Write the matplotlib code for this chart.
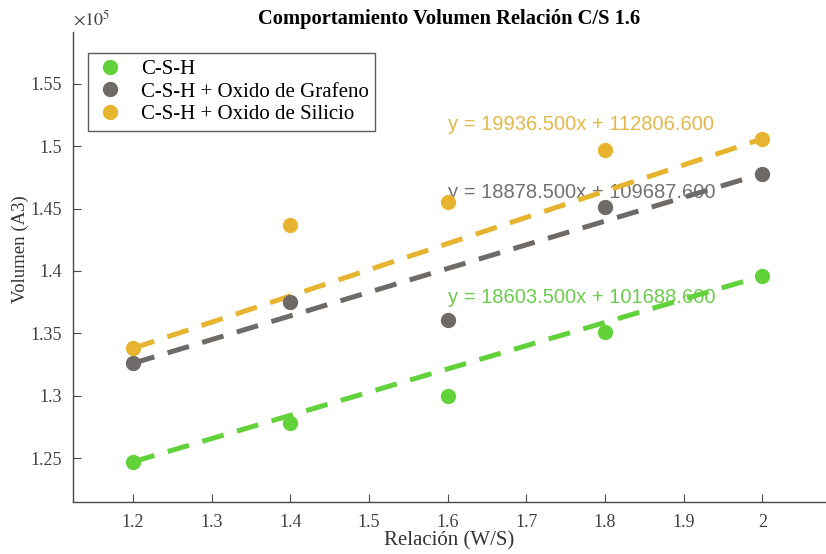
import numpy as np
import matplotlib.pyplot as plt

# values (volumen in units of 1e5 A3)
relacion = np.array([1.2, 1.4, 1.6, 1.8, 2.0])
vol_csh = np.array([1.247, 1.278, 1.2996, 1.351, 1.396])
vol_grafeno = np.array([1.326, 1.375, 1.361, 1.451, 1.478])
vol_silicio = np.array([1.338, 1.4366, 1.455, 1.497, 1.506])

labels = ['C-S-H', 'C-S-H + Oxido de Grafeno', 'C-S-H + Oxido de Silicio']
ecuaciones = ['y = 18603.500x + 101688.600',
              'y = 18878.500x + 109687.600',
              'y = 19936.500x + 112806.600']
eq_y = [1.379, 1.463, 1.5174]

colors = ['#62d23a', '#6e6a67', '#e6b42e']
text_colors = ['#6ccc4c', '#727272', '#e2b84a']

plt.rcParams['lines.scale_dashes'] = False
plt.rcParams['mathtext.fontset'] = 'stix'
fig = plt.figure(figsize=(8.26, 5.54), dpi=100)
ax = fig.add_axes([0.0884, 0.0939, 0.9116, 0.8483])

series = [vol_csh, vol_grafeno, vol_silicio]
for vol, c, lab in zip(series, colors, labels):
    ax.plot(relacion, vol, 'o', color=c, markersize=10, label=lab, zorder=3)
for vol, c in zip(series, colors):
    ax.plot(relacion[[0, -1]], vol[[0, -1]], color=c, lw=3.6,
            dashes=(16, 10), zorder=2)
for eq, y, c in zip(ecuaciones, eq_y, text_colors):
    ax.text(1.6, y, eq, color=c, fontsize=14.5, family='Liberation Sans',
            va='center', ha='left', zorder=1)

ax.set_xlim(1.1237, 2.081)
ax.set_ylim(1.2148, 1.5916)
ax.set_xticks([1.2, 1.3, 1.4, 1.5, 1.6, 1.7, 1.8, 1.9, 2.0])
ax.set_xticklabels(['1.2', '1.3', '1.4', '1.5', '1.6', '1.7', '1.8', '1.9', '2'])
ax.set_yticks([1.25, 1.3, 1.35, 1.4, 1.45, 1.5, 1.55])
ax.set_yticklabels(['1.25', '1.3', '1.35', '1.4', '1.45', '1.5', '1.55'])

for s in ['top', 'right']:
    ax.spines[s].set_visible(False)
for s in ['left', 'bottom']:
    ax.spines[s].set_color('#4a4a4a')
    ax.spines[s].set_linewidth(1.0)
ax.tick_params(direction='in', length=6, color='#4a4a4a', labelcolor='#404040',
               labelsize=13)
ax.tick_params(axis='x', pad=9)
ax.tick_params(axis='y', pad=8)
for lab in ax.get_xticklabels() + ax.get_yticklabels():
    lab.set_family('Liberation Serif')

ax.set_xlabel('Relación (W/S)', family='Liberation Serif', fontsize=15,
              color='#333333', labelpad=0)
ax.set_ylabel('Volumen (A3)', family='Liberation Serif', fontsize=13.5,
              color='#333333')
ax.yaxis.set_label_coords(-0.058, 0.538)
ax.set_title('Comportamiento Volumen Relación C/S 1.6', family='Liberation Serif',
             fontweight='bold', fontsize=14.8, pad=6)
ax.text(0.0, 1.005, r'$\times10^5$', transform=ax.transAxes, fontsize=13,
        color='#404040', ha='left', va='bottom')

leg = ax.legend(loc='upper left', bbox_to_anchor=(0.02, 0.955),
                prop={'family': 'Liberation Serif', 'size': 15},
                frameon=True, fancybox=False, edgecolor='#333333',
                handletextpad=0.75, borderpad=0.3, labelspacing=0.15,
                handlelength=1.5, borderaxespad=0)
leg.get_frame().set_linewidth(1.0)

fig.savefig('out.png', dpi=100)
